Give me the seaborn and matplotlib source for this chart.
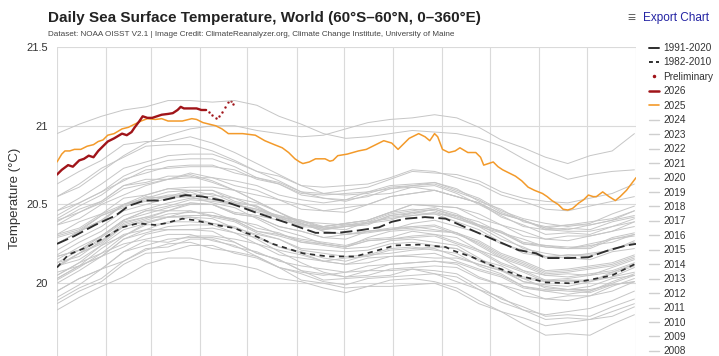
import matplotlib
matplotlib.use("Agg")
import matplotlib.pyplot as plt
import seaborn as sns
import pandas as pd
from matplotlib.lines import Line2D

# ---------------- data ----------------
month_starts = [0, 31, 59, 90, 120, 151, 181, 212, 243, 273, 304, 334, 365]
y_ticks = [20, 20.5, 21, 21.5]
y_tick_labels = ["20", "20.5", "21", "21.5"]

clim9120_days = [0, 11, 24, 37, 45, 55, 66, 81, 92, 104, 117, 125, 131, 146, 163, 177, 190, 203,
                 211, 220, 232, 245, 262, 277, 291, 302, 308, 323, 335, 348, 359, 365]
clim9120_vals = [20.25, 20.30, 20.37, 20.43, 20.49, 20.525, 20.525, 20.56, 20.55, 20.525, 20.48, 20.45,
                 20.43, 20.38, 20.32, 20.32, 20.335, 20.355, 20.39, 20.41, 20.42, 20.41, 20.335, 20.27,
                 20.21, 20.19, 20.16, 20.16, 20.165, 20.21, 20.24, 20.25]

clim8210_days = [0, 7, 19, 30, 41, 51, 62, 68, 79, 87, 100, 112, 119, 125, 136, 155, 171, 188, 199,
                 213, 228, 245, 249, 262, 277, 291, 308, 323, 335, 350, 359, 365]
clim8210_vals = [20.10, 20.18, 20.23, 20.29, 20.355, 20.38, 20.37, 20.38, 20.41, 20.40, 20.37, 20.35,
                 20.32, 20.30, 20.25, 20.19, 20.17, 20.17, 20.20, 20.24, 20.245, 20.23, 20.21, 20.165,
                 20.10, 20.05, 20.005, 20.0, 20.02, 20.05, 20.095, 20.125]

y2025_days = [0, 3, 5, 8, 11, 15, 19, 23, 26, 29, 32, 36, 41, 45, 49, 53, 57, 62, 66, 70, 73, 79, 85,
              88, 92, 96, 100, 104, 108, 113, 117, 121, 125, 131, 137, 142, 146, 150, 153, 155, 159,
              163, 166, 169, 172, 174, 177, 183, 190, 195, 199, 206, 211, 215, 218, 222, 228, 232,
              235, 238, 240, 243, 247, 251, 254, 259, 264, 267, 269, 272, 275, 278, 281, 285, 289,
              293, 297, 301, 306, 309, 312, 316, 319, 322, 325, 329, 332, 335, 338, 340, 344, 348,
              352, 355, 359, 362, 365]
y2025_vals = [20.77, 20.82, 20.84, 20.84, 20.85, 20.85, 20.87, 20.88, 20.90, 20.91, 20.94, 20.95, 20.98,
              20.99, 21.01, 21.03, 21.045, 21.04, 21.045, 21.03, 21.03, 21.03, 21.045, 21.04, 21.02,
              21.01, 21.0, 20.98, 20.95, 20.95, 20.95, 20.945, 20.94, 20.905, 20.88, 20.86, 20.83,
              20.79, 20.77, 20.76, 20.77, 20.79, 20.79, 20.79, 20.775, 20.78, 20.81, 20.82, 20.84,
              20.85, 20.87, 20.905, 20.89, 20.85, 20.88, 20.92, 20.95, 20.93, 20.905, 20.95, 20.93,
              20.85, 20.83, 20.84, 20.86, 20.83, 20.83, 20.80, 20.75, 20.76, 20.77, 20.74, 20.72,
              20.70, 20.68, 20.65, 20.61, 20.59, 20.57, 20.55, 20.525, 20.50, 20.47, 20.465, 20.475,
              20.51, 20.53, 20.56, 20.55, 20.55, 20.58, 20.55, 20.525, 20.55, 20.59, 20.63, 20.67]

y2026_days = [0, 3, 7, 10, 14, 17, 20, 23, 26, 29, 32, 36, 41, 44, 47, 49, 52, 54, 57, 60, 63, 66, 70,
              73, 76, 78, 80, 82, 85, 88, 91, 94]
y2026_vals = [20.69, 20.72, 20.75, 20.74, 20.78, 20.79, 20.81, 20.80, 20.84, 20.87, 20.90, 20.92, 20.95,
              20.94, 20.96, 20.99, 21.03, 21.06, 21.05, 21.05, 21.06, 21.07, 21.075, 21.08, 21.10,
              21.12, 21.11, 21.11, 21.11, 21.11, 21.10, 21.10]

prelim_days = [96, 98, 100, 102, 104, 106, 108, 110, 111]
prelim_vals = [21.09, 21.07, 21.05, 21.06, 21.09, 21.12, 21.15, 21.16, 21.14]

gray_days = [0, 14, 28, 42, 56, 70, 84, 98, 112, 126, 140, 154, 168, 182, 196, 210, 224, 238, 252,
             266, 280, 294, 308, 322, 336, 350, 364]

y1982 = [19.95, 20.03, 20.09, 20.20, 20.27, 20.26, 20.30, 20.30, 20.28, 20.25, 20.18, 20.16, 20.14, 20.12, 20.13, 20.17, 20.17, 20.16, 20.16, 20.12, 20.08, 20.03, 20.01, 20.02, 20.02, 20.04, 20.07]
y1983 = [20.10, 20.19, 20.29, 20.39, 20.42, 20.42, 20.42, 20.38, 20.35, 20.28, 20.20, 20.13, 20.07, 20.04, 20.08, 20.08, 20.09, 20.08, 20.06, 19.98, 19.90, 19.85, 19.79, 19.80, 19.79, 19.85, 19.90]
y1984 = [19.91, 19.99, 20.09, 20.14, 20.21, 20.25, 20.26, 20.22, 20.20, 20.17, 20.10, 20.02, 20.00, 19.97, 19.98, 20.02, 20.03, 20.01, 19.97, 19.89, 19.82, 19.74, 19.67, 19.68, 19.67, 19.74, 19.80]
y1985 = [19.83, 19.91, 19.98, 20.04, 20.12, 20.16, 20.16, 20.13, 20.12, 20.09, 20.03, 20.01, 19.97, 19.94, 19.98, 19.98, 19.99, 20.00, 19.95, 19.87, 19.82, 19.78, 19.73, 19.75, 19.77, 19.79, 19.85]
y1986 = [19.87, 19.95, 20.01, 20.12, 20.19, 20.20, 20.24, 20.24, 20.19, 20.16, 20.10, 20.07, 20.05, 20.07, 20.08, 20.12, 20.13, 20.14, 20.13, 20.08, 20.04, 19.97, 19.95, 19.96, 19.95, 20.01, 20.06]
y1987 = [20.05, 20.13, 20.24, 20.30, 20.38, 20.42, 20.43, 20.43, 20.40, 20.33, 20.30, 20.26, 20.24, 20.22, 20.23, 20.27, 20.28, 20.26, 20.24, 20.16, 20.08, 20.03, 19.97, 19.96, 19.96, 19.99, 20.01]
y1988 = [20.03, 20.11, 20.17, 20.28, 20.34, 20.34, 20.34, 20.33, 20.26, 20.19, 20.15, 20.08, 20.02, 20.03, 20.04, 20.05, 20.09, 20.06, 20.04, 19.96, 19.88, 19.83, 19.77, 19.78, 19.77, 19.82, 19.87]
y1989 = [19.89, 19.97, 20.03, 20.14, 20.22, 20.23, 20.28, 20.28, 20.23, 20.20, 20.14, 20.11, 20.09, 20.07, 20.11, 20.12, 20.13, 20.14, 20.12, 20.04, 19.99, 19.95, 19.90, 19.92, 19.92, 19.98, 20.03]
y1990 = [20.05, 20.13, 20.19, 20.30, 20.37, 20.38, 20.42, 20.41, 20.35, 20.31, 20.28, 20.22, 20.21, 20.20, 20.21, 20.25, 20.26, 20.24, 20.22, 20.14, 20.09, 20.01, 19.98, 19.96, 19.98, 20.03, 20.05]
y1991 = [20.07, 20.11, 20.22, 20.31, 20.34, 20.39, 20.39, 20.38, 20.36, 20.30, 20.23, 20.19, 20.14, 20.12, 20.16, 20.17, 20.18, 20.19, 20.14, 20.09, 20.05, 19.98, 19.96, 19.95, 19.94, 19.99, 20.01]
y1992 = [20.02, 20.10, 20.19, 20.25, 20.28, 20.31, 20.31, 20.27, 20.24, 20.17, 20.10, 20.06, 20.01, 19.99, 20.03, 20.04, 20.05, 20.06, 20.01, 19.96, 19.91, 19.83, 19.80, 19.82, 19.84, 19.89, 19.95]
y1993 = [19.95, 20.03, 20.09, 20.20, 20.24, 20.28, 20.29, 20.29, 20.26, 20.19, 20.15, 20.08, 20.06, 20.04, 20.05, 20.09, 20.10, 20.11, 20.10, 20.03, 19.99, 19.92, 19.90, 19.89, 19.92, 19.95, 20.01]
y1994 = [20.00, 20.08, 20.17, 20.23, 20.31, 20.34, 20.34, 20.35, 20.32, 20.25, 20.21, 20.18, 20.14, 20.16, 20.17, 20.21, 20.22, 20.23, 20.22, 20.15, 20.11, 20.04, 20.02, 20.01, 20.01, 20.07, 20.12]
y1995 = [20.13, 20.21, 20.27, 20.38, 20.42, 20.46, 20.46, 20.42, 20.39, 20.32, 20.28, 20.21, 20.19, 20.17, 20.18, 20.22, 20.23, 20.21, 20.19, 20.11, 20.06, 19.98, 19.95, 19.93, 19.95, 20.00, 20.05]
y1996 = [20.03, 20.11, 20.17, 20.28, 20.32, 20.36, 20.37, 20.37, 20.32, 20.29, 20.23, 20.20, 20.16, 20.14, 20.18, 20.19, 20.21, 20.22, 20.17, 20.12, 20.08, 20.01, 19.99, 19.98, 20.01, 20.04, 20.10]
y1997 = [20.11, 20.19, 20.26, 20.37, 20.41, 20.46, 20.50, 20.50, 20.45, 20.43, 20.40, 20.37, 20.36, 20.38, 20.40, 20.45, 20.50, 20.49, 20.48, 20.44, 20.37, 20.33, 20.28, 20.30, 20.30, 20.33, 20.39]
y1998 = [20.39, 20.47, 20.52, 20.62, 20.64, 20.68, 20.68, 20.64, 20.59, 20.52, 20.45, 20.38, 20.33, 20.31, 20.33, 20.34, 20.36, 20.34, 20.32, 20.24, 20.16, 20.11, 20.05, 20.04, 20.06, 20.08, 20.13]
y1999 = [20.13, 20.17, 20.27, 20.36, 20.39, 20.42, 20.46, 20.43, 20.41, 20.35, 20.32, 20.26, 20.25, 20.23, 20.27, 20.28, 20.30, 20.31, 20.26, 20.21, 20.13, 20.08, 20.02, 20.03, 20.05, 20.07, 20.12]
y2000 = [20.11, 20.19, 20.25, 20.36, 20.40, 20.44, 20.45, 20.45, 20.40, 20.37, 20.31, 20.28, 20.26, 20.24, 20.28, 20.29, 20.33, 20.31, 20.29, 20.21, 20.16, 20.08, 20.05, 20.06, 20.05, 20.10, 20.15]
y2001 = [20.15, 20.23, 20.30, 20.40, 20.46, 20.46, 20.51, 20.50, 20.44, 20.42, 20.36, 20.33, 20.29, 20.31, 20.33, 20.34, 20.38, 20.40, 20.36, 20.32, 20.25, 20.21, 20.16, 20.18, 20.18, 20.21, 20.27]
y2002 = [20.25, 20.33, 20.39, 20.50, 20.53, 20.56, 20.56, 20.57, 20.51, 20.49, 20.42, 20.40, 20.35, 20.36, 20.37, 20.43, 20.44, 20.47, 20.42, 20.37, 20.33, 20.25, 20.24, 20.22, 20.24, 20.26, 20.31]
y2003 = [20.31, 20.39, 20.44, 20.54, 20.56, 20.60, 20.59, 20.59, 20.52, 20.49, 20.41, 20.38, 20.34, 20.36, 20.38, 20.43, 20.45, 20.47, 20.43, 20.39, 20.32, 20.28, 20.23, 20.22, 20.25, 20.28, 20.30]
y2004 = [20.29, 20.33, 20.43, 20.48, 20.55, 20.54, 20.58, 20.53, 20.51, 20.45, 20.42, 20.36, 20.35, 20.34, 20.39, 20.41, 20.43, 20.45, 20.41, 20.37, 20.30, 20.22, 20.19, 20.17, 20.19, 20.21, 20.26]
y2005 = [20.25, 20.33, 20.40, 20.50, 20.54, 20.58, 20.59, 20.59, 20.54, 20.51, 20.45, 20.39, 20.38, 20.37, 20.38, 20.42, 20.43, 20.44, 20.39, 20.34, 20.26, 20.19, 20.17, 20.16, 20.15, 20.20, 20.22]
y2006 = [20.21, 20.29, 20.36, 20.46, 20.50, 20.54, 20.55, 20.55, 20.50, 20.47, 20.41, 20.38, 20.34, 20.36, 20.38, 20.40, 20.45, 20.44, 20.43, 20.36, 20.32, 20.25, 20.23, 20.22, 20.22, 20.28, 20.31]
y2007 = [20.30, 20.34, 20.43, 20.49, 20.52, 20.55, 20.55, 20.51, 20.48, 20.41, 20.34, 20.30, 20.25, 20.23, 20.27, 20.28, 20.29, 20.30, 20.25, 20.20, 20.12, 20.07, 20.01, 20.02, 20.01, 20.06, 20.11]
y2008 = [20.11, 20.15, 20.24, 20.34, 20.38, 20.42, 20.43, 20.43, 20.40, 20.33, 20.31, 20.27, 20.25, 20.23, 20.29, 20.33, 20.34, 20.33, 20.32, 20.25, 20.17, 20.12, 20.06, 20.07, 20.09, 20.11, 20.16]
y2009 = [20.17, 20.21, 20.30, 20.40, 20.46, 20.49, 20.53, 20.52, 20.50, 20.46, 20.43, 20.37, 20.36, 20.38, 20.40, 20.45, 20.50, 20.49, 20.48, 20.41, 20.37, 20.30, 20.28, 20.27, 20.30, 20.33, 20.36]
y2010 = [20.37, 20.45, 20.52, 20.62, 20.66, 20.66, 20.69, 20.65, 20.59, 20.52, 20.45, 20.38, 20.33, 20.31, 20.32, 20.34, 20.35, 20.36, 20.31, 20.26, 20.18, 20.13, 20.07, 20.08, 20.10, 20.12, 20.17]
y2011 = [20.17, 20.21, 20.30, 20.40, 20.44, 20.48, 20.51, 20.50, 20.44, 20.42, 20.36, 20.33, 20.29, 20.28, 20.33, 20.35, 20.36, 20.37, 20.32, 20.27, 20.19, 20.14, 20.08, 20.09, 20.11, 20.13, 20.18]
y2012 = [20.18, 20.26, 20.33, 20.43, 20.47, 20.51, 20.54, 20.53, 20.50, 20.47, 20.43, 20.40, 20.36, 20.38, 20.40, 20.45, 20.47, 20.46, 20.41, 20.36, 20.28, 20.23, 20.17, 20.18, 20.17, 20.22, 20.25]
y2013 = [20.25, 20.33, 20.40, 20.50, 20.54, 20.55, 20.59, 20.56, 20.54, 20.48, 20.42, 20.39, 20.35, 20.37, 20.39, 20.44, 20.46, 20.48, 20.44, 20.37, 20.33, 20.26, 20.24, 20.23, 20.23, 20.29, 20.32]
y2014 = [20.31, 20.35, 20.44, 20.50, 20.56, 20.60, 20.61, 20.61, 20.59, 20.56, 20.53, 20.47, 20.46, 20.45, 20.50, 20.55, 20.57, 20.59, 20.55, 20.51, 20.44, 20.40, 20.35, 20.34, 20.37, 20.40, 20.43]
y2015 = [20.41, 20.49, 20.56, 20.66, 20.70, 20.74, 20.75, 20.75, 20.70, 20.67, 20.64, 20.58, 20.57, 20.59, 20.61, 20.66, 20.71, 20.70, 20.69, 20.65, 20.58, 20.54, 20.52, 20.51, 20.54, 20.57, 20.63]
y2016 = [20.63, 20.71, 20.78, 20.88, 20.90, 20.90, 20.93, 20.89, 20.83, 20.76, 20.69, 20.62, 20.57, 20.56, 20.57, 20.61, 20.62, 20.63, 20.58, 20.53, 20.45, 20.40, 20.34, 20.35, 20.34, 20.39, 20.42]
y2017 = [20.43, 20.51, 20.58, 20.68, 20.74, 20.78, 20.79, 20.79, 20.74, 20.67, 20.63, 20.56, 20.54, 20.52, 20.56, 20.57, 20.61, 20.59, 20.55, 20.51, 20.42, 20.37, 20.31, 20.32, 20.31, 20.36, 20.39]
y2018 = [20.37, 20.41, 20.50, 20.56, 20.62, 20.66, 20.67, 20.67, 20.62, 20.59, 20.53, 20.50, 20.46, 20.48, 20.50, 20.55, 20.57, 20.59, 20.55, 20.51, 20.44, 20.40, 20.35, 20.37, 20.37, 20.40, 20.46]
y2019 = [20.46, 20.54, 20.63, 20.73, 20.77, 20.81, 20.82, 20.82, 20.77, 20.71, 20.68, 20.62, 20.61, 20.62, 20.63, 20.67, 20.72, 20.71, 20.67, 20.63, 20.56, 20.52, 20.47, 20.46, 20.49, 20.52, 20.55]
y2020 = [20.55, 20.63, 20.73, 20.80, 20.87, 20.88, 20.88, 20.84, 20.78, 20.71, 20.65, 20.58, 20.54, 20.53, 20.58, 20.60, 20.61, 20.62, 20.57, 20.50, 20.43, 20.36, 20.34, 20.33, 20.33, 20.36, 20.41]
y2021 = [20.40, 20.45, 20.51, 20.60, 20.63, 20.66, 20.70, 20.67, 20.65, 20.62, 20.56, 20.53, 20.51, 20.53, 20.55, 20.60, 20.62, 20.64, 20.60, 20.52, 20.47, 20.39, 20.36, 20.37, 20.39, 20.41, 20.46]
y2022 = [20.46, 20.51, 20.58, 20.65, 20.72, 20.73, 20.74, 20.74, 20.72, 20.66, 20.63, 20.57, 20.56, 20.57, 20.58, 20.62, 20.63, 20.64, 20.59, 20.54, 20.46, 20.41, 20.38, 20.36, 20.38, 20.44, 20.49]
y2023 = [20.55, 20.61, 20.71, 20.81, 20.89, 20.94, 20.98, 21.00, 21.00, 20.97, 20.95, 20.93, 20.94, 20.98, 21.02, 21.04, 21.05, 21.07, 21.05, 20.99, 20.91, 20.86, 20.80, 20.76, 20.81, 20.84, 20.95]
y2024 = [20.95, 21.01, 21.06, 21.10, 21.12, 21.16, 21.16, 21.15, 21.16, 21.13, 21.06, 21.01, 20.95, 20.92, 20.93, 20.95, 20.97, 20.96, 20.95, 20.92, 20.87, 20.79, 20.72, 20.66, 20.69, 20.71, 20.72]

gray_years = [1982, 1983, 1984, 1985, 1986, 1987, 1988, 1989, 1990, 1991, 1992, 1993, 1994, 1995,
              1996, 1997, 1998, 1999, 2000, 2001, 2002, 2003, 2004, 2005, 2006, 2007, 2008, 2009,
              2010, 2011, 2012, 2013, 2014, 2015, 2016, 2017, 2018, 2019, 2020, 2021, 2022, 2023, 2024]
gray_series = [y1982, y1983, y1984, y1985, y1986, y1987, y1988, y1989, y1990, y1991, y1992, y1993,
               y1994, y1995, y1996, y1997, y1998, y1999, y2000, y2001, y2002, y2003, y2004, y2005,
               y2006, y2007, y2008, y2009, y2010, y2011, y2012, y2013, y2014, y2015, y2016, y2017,
               y2018, y2019, y2020, y2021, y2022, y2023, y2024]

# ---------------- style ----------------
sns.set_theme(style="white")
plt.rcParams['font.family'] = ['Liberation Sans', 'DejaVu Sans']

C_GRAY = "#c6c6c6"
C_2025 = "#f39a2a"
C_2026 = "#a01419"
C_DASH = "#2e2e2e"
C_TEXT = "#333333"

W, H = 719, 356
fig = plt.figure(figsize=(W / 100, H / 100), dpi=100)
ax = fig.add_axes([57 / W, 0, 579 / W, 309 / H])

rows = []
for yr, vals in zip(gray_years, gray_series):
    for d, v in zip(gray_days, vals):
        rows.append({"year": yr, "day": d, "temp": v})
gray_df = pd.DataFrame(rows)

sns.lineplot(data=gray_df, x="day", y="temp", units="year", estimator=None,
             color=C_GRAY, linewidth=0.7, ax=ax, legend=False)

sns.lineplot(x=clim8210_days, y=clim8210_vals, color=C_DASH, linewidth=1.25,
             linestyle=(0, (3.0, 2.6)), ax=ax)
sns.lineplot(x=clim9120_days, y=clim9120_vals, color=C_DASH, linewidth=1.35,
             linestyle=(0, (6.5, 2.4)), ax=ax)
sns.lineplot(x=y2025_days, y=y2025_vals, color=C_2025, linewidth=1.1, ax=ax)
sns.lineplot(x=y2026_days, y=y2026_vals, color=C_2026, linewidth=1.7, ax=ax)
sns.scatterplot(x=prelim_days, y=prelim_vals, color=C_2026, s=3, linewidth=0, ax=ax)

ax.set_xlim(0, 365)
ax.set_ylim(19.538, 21.5)
ax.set_xticks(month_starts)
ax.set_xticklabels([])
ax.set_yticks(y_ticks)
ax.set_yticklabels(y_tick_labels)
ax.tick_params(axis="both", length=0)
ax.tick_params(axis="y", labelsize=8, labelcolor=C_TEXT, pad=6.5)
ax.grid(True, color="#dadada", linewidth=0.8)
ax.set_axisbelow(True)
for s in ax.spines.values():
    s.set_visible(False)
ax.set_xlabel("")
ax.set_ylabel("Temperature (°C)", fontsize=9.5, color=C_TEXT)
ax.yaxis.set_label_coords(-0.062, 0.511)

fig.text(48 / W, 1 - 18 / H, "Daily Sea Surface Temperature, World (60°S–60°N, 0–360°E)",
         fontsize=10.95, weight="bold", color="#222222", va="center", ha="left")
fig.text(48 / W, 1 - 34 / H,
         "Dataset: NOAA OISST V2.1 | Image Credit: ClimateReanalyzer.org, Climate Change Institute, University of Maine",
         fontsize=5.87, color="#444444", va="center", ha="left")
fig.text(643 / W, 1 - 18 / H, "Export Chart", fontsize=8.5, color="#2323a3", va="center", ha="left")
fig.text(631 / W, 1 - 18 / H, "≡", fontsize=10, color="#666666", va="center", ha="center")

# legend (continues below the visible area, as in the reference)
handles = [
    Line2D([], [], color=C_DASH, lw=1.4),
    Line2D([], [], color=C_DASH, lw=1.4, ls=(0, (2.0, 1.6))),
    Line2D([], [], color=C_2026, marker=".", ls="none", markersize=3),
    Line2D([], [], color=C_2026, lw=1.8),
    Line2D([], [], color=C_2025, lw=1.2),
]
labels = ["1991-2020", "1982-2010", "Preliminary", "2026", "2025"]
for yr in sorted(gray_years, reverse=True):
    handles.append(Line2D([], [], color="#cfcfcf", lw=1.0))
    labels.append(str(yr))

fig.legend(handles, labels, loc="upper left", bbox_to_anchor=(649 / W, 1 - 43 / H),
           frameon=False, fontsize=7.2, handlelength=1.0, handletextpad=0.45,
           labelspacing=0.445, borderpad=0, borderaxespad=0, labelcolor=C_TEXT)

fig.savefig("out.png", dpi=100)
